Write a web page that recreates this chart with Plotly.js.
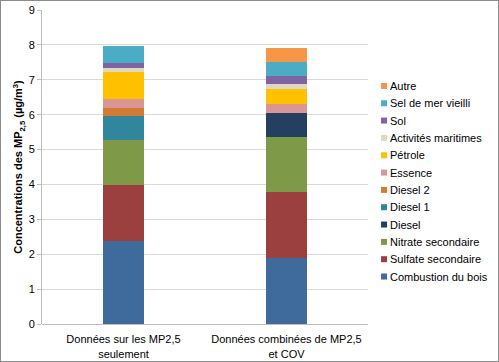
<!DOCTYPE html>
<html>
<head>
<meta charset="utf-8">
<script src="https://cdn.plot.ly/plotly-3.0.1.min.js"></script>
<style>
html,body{margin:0;padding:0;background:#fff;}
#frame{position:absolute;left:0;top:0;width:497px;height:360px;border:1px solid #8c8c8c;}
#chart{width:497px;height:360px;}
</style>
</head>
<body>
<div id="frame"><div id="chart"></div></div>
<script>
// Categories (x axis)
const categories = ["Données sur les MP2,5<br>seulement", "Données combinées de MP2,5<br>et COV"];

// Series names (bottom to top of stack)
const seriesNames = ["Combustion du bois", "Sulfate secondaire", "Nitrate secondaire", "Diesel",
  "Diesel 1", "Diesel 2", "Essence", "Pétrole", "Activités maritimes", "Sol", "Sel de mer vieilli", "Autre"];

// Values per series: [MP2.5 only, combined MP2.5 + COV]
const combustionBois   = [2.39, 1.89];
const sulfateSecond    = [1.60, 1.89];
const nitrateSecond    = [1.29, 1.59];
const diesel           = [0.00, 0.69];
const diesel1          = [0.67, 0.00];
const diesel2          = [0.24, 0.00];
const essence          = [0.27, 0.24];
const petrole          = [0.77, 0.45];
const activitesMarit   = [0.10, 0.14];
const sol              = [0.16, 0.21];
const selDeMer         = [0.49, 0.42];
const autre            = [0.00, 0.39];

const seriesValues = [combustionBois, sulfateSecond, nitrateSecond, diesel, diesel1, diesel2,
  essence, petrole, activitesMarit, sol, selDeMer, autre];

const seriesColors = ["#3E6A9C", "#9B403E", "#7E9A48", "#243F60", "#31859C", "#D27B36",
  "#DA9694", "#FFC000", "#DDD9C3", "#8064A2", "#4BACC6", "#F79646"];

const yTicks = [0, 1, 2, 3, 4, 5, 6, 7, 8, 9];

const traces = seriesNames.map((n, i) => ({
  type: "bar",
  name: n,
  x: categories,
  y: seriesValues[i],
  marker: {color: seriesColors[i], line: {width: 0}},
  showlegend: false,
  hoverinfo: "name+y"
}));

// custom legend (Excel style: small square + label), top item = last series
const shapes = [];
const annotations = [];
const plotL = 42, plotR = 367, plotT = 10, plotB = 323;
const pw = plotR - plotL, ph = plotB - plotT;
const legTop = 85.7, legStep = 17.27;
const order = seriesNames.map((_, i) => i).reverse();
order.forEach((si, k) => {
  const yc = legTop + k * legStep;
  const py = v => (plotB - v) / ph;
  const px = v => (v - plotL) / pw;
  shapes.push({type: "rect", xref: "paper", yref: "paper",
    x0: px(380), x1: px(386), y0: py(yc + 3), y1: py(yc - 3),
    fillcolor: seriesColors[si], line: {width: 0}});
  annotations.push({xref: "paper", yref: "paper", x: px(387), y: py(yc),
    xanchor: "left", yanchor: "middle", showarrow: false,
    text: seriesNames[si], font: {family: "Liberation Sans, Arial", size: 11, color: "#000"}});
});

const layout = {
  width: 497, height: 360,
  margin: {l: 41, r: 130, t: 9, b: 37},
  barmode: "stack",
  bargap: 0.75,
  paper_bgcolor: "#fff",
  plot_bgcolor: "#fff",
  showlegend: false,
  font: {family: "Liberation Sans, Arial", size: 11, color: "#000"},
  xaxis: {
    type: "category",
    showgrid: false,
    showline: false,
    ticks: "outside",
    ticklen: 5,
    tickcolor: "rgba(0,0,0,0)",
    tickfont: {size: 11, color: "#000"},
    fixedrange: true
  },
  yaxis: {
    range: [0, 9],
    tickvals: yTicks,
    ticktext: yTicks.map(String),
    showgrid: true,
    gridcolor: "#d9d9d9",
    gridwidth: 1,
    zeroline: true,
    zerolinecolor: "#bfbfbf",
    zerolinewidth: 1,
    showline: true,
    linecolor: "#bfbfbf",
    linewidth: 1,
    ticks: "outside",
    ticklen: 4,
    tickcolor: "#bfbfbf",
    tickfont: {size: 11, color: "#000"},
    title: {text: "<b>Concentrations des MP<sub>2,5</sub> (µg/m<sup>3</sup>)</b>",
      font: {size: 11, color: "#000"}, standoff: 3},
    fixedrange: true
  },
  shapes: shapes,
  annotations: annotations
};

Plotly.newPlot("chart", traces, layout, {displayModeBar: false, staticPlot: true});
</script>
</body>
</html>
